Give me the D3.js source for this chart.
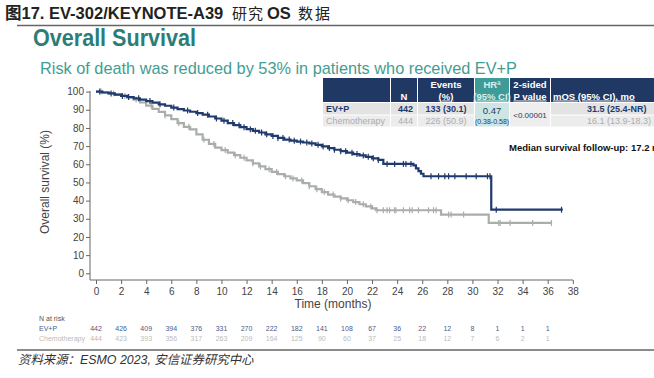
<!DOCTYPE html>
<html><head><meta charset="utf-8">
<script src="https://cdn.jsdelivr.net/npm/d3@7"></script>
<style>
html,body{margin:0;padding:0;background:#fff;}
svg{display:block;}
text{font-family:"Liberation Sans",Arial,"Noto Sans CJK SC",sans-serif;}
</style></head>
<body>
<svg id="chart" width="654" height="378"></svg>
<script>
// ---------------- data ----------------
const xTicks = [0,2,4,6,8,10,12,14,16,18,20,22,24,26,28,30,32,34,36,38];
const yTicks = [0,10,20,30,40,50,60,70,80,90,100];

const evpTime = [0,0.5,1,1.5,2,2.5,3,3.5,4,4.5,5,5.5,6,6.5,7,7.5,8,8.5,9,9.5,10,10.5,11,11.5,12,12.5,13,13.5,14,14.5,15,15.5,16,16.5,17,17.5,18,18.5,19,19.5,20,20.5,21,21.5,22,22.5,22.9,25.3,25.5,25.7,25.9,26.1,31.5,37.2];
const evpSurv = [100,99.5,99,98.3,97.6,97,96.3,95.6,94.8,93.9,93,92.2,91.2,90.4,89.6,88.9,88.2,87.3,86.3,85.2,84,82.7,81.5,80.4,79.3,78.4,77.5,76.5,75.6,74.5,73.6,73,72.5,72,71.5,70.7,69.8,68.9,68,67.2,66.4,65.6,64.9,64.1,63.3,62.4,60.2,59.4,57.8,56.2,54.8,53.4,35,35];

const chemoTime = [0,0.5,1,1.5,2,2.5,3,3.5,4,4.5,5,5.5,6,6.5,7,7.5,8,8.5,9,9.5,10,10.5,11,11.5,12,12.5,13,13.5,14,14.5,15,15.5,16,16.5,17,17.5,18,18.5,19,19.5,20,20.5,21,21.5,22,22.3,27.5,31.3,36.3];
const chemoSurv = [100,99.6,99,98.3,97.6,96.8,95.6,94,92.3,90.5,88.8,86.9,84.8,82.6,80.6,79.2,76.5,73.5,71.2,69.2,67.8,66.4,65,63.6,62.2,60.5,58.8,57.3,55.8,54.6,53.4,52.2,51.1,49.6,47.9,46.3,44.7,43.3,42.2,41.2,40.2,39.2,38,36.8,35.7,34.7,32.3,27.7,27.7];

const evpCensor = [0.3,1.2,2.1,2.6,3.4,4.3,5.1,6.2,7.3,8.1,8.9,9.6,10.2,10.9,11.4,11.8,12.3,12.7,13.2,13.6,14.1,14.5,14.9,15.4,15.8,16.3,16.8,17.2,17.7,18.1,18.6,19,19.5,19.9,20.4,20.8,21.3,21.7,22.1,22.5,23.2,23.8,24.5,24.7,25.1,26.7,27.3,27.8,28.1,28.6,29.5,30.3,31.2,31.4,31.9,37.1];
const chemoCensor = [0.4,1.4,2.3,3.2,4.4,5.5,6.6,7.4,8.6,9.4,10.3,11.1,11.8,12.5,13.1,13.8,14.4,15.1,15.7,16.4,17,17.6,18.2,18.9,19.5,20.1,20.7,21.3,21.9,22.4,22.9,23.2,23.4,23.8,23.9,24.5,25,25.2,25.7,26.5,26.9,27.1,28.1,28.3,29.3,32.1,32.2,33,34.8,36.3];

const riskTimes = [0,2,4,6,8,10,12,14,16,18,20,22,24,26,28,30,32,34,36];
const riskEVP = [442,426,409,394,376,331,270,222,182,141,108,67,36,22,12,8,1,1,1];
const riskChemo = [444,423,393,356,317,263,209,164,125,90,60,37,25,18,12,7,6,2,1];

const tableHead1 = ["", "", "Events", "HRª", "2-sided", ""];
const tableHead2 = ["", "N", "(%)", "(95% CI)", "P value", "mOS (95% CI), mo"];
const armNames = ["EV+P", "Chemotherapy"];
const armN = ["442", "444"];
const armEvents = ["133 (30.1)", "226 (50.9)"];
const armMOS = ["31.5 (25.4-NR)", "16.1 (13.9-18.3)"];
const hrLines = ["0.47", "(0.38-0.58)"];
const pValue = "<0.00001";

// ---------------- drawing ----------------
const svg = d3.select("#chart");
const NAVY = "#1f3a6c", GREY = "#a9aeab", TEAL = "#2c7d78";

const x = d3.scaleLinear().domain([0,38]).range([96,572.8]);
const y = d3.scaleLinear().domain([0,100]).range([273.3,91.6]);

// header
const head = svg.append("g").attr("fill","#222");
head.append("text").attr("x",5).attr("y",19).attr("font-size",16.5).attr("font-weight","bold").text("图17. EV-302/KEYNOTE-A39");
head.append("text").attr("x",232).attr("y",19).attr("font-size",15).attr("letter-spacing",1).attr("font-family","Noto Sans CJK SC").text("研究");
head.append("text").attr("x",267).attr("y",19).attr("font-size",16.5).attr("font-weight","bold").text("OS");
head.append("text").attr("x",298).attr("y",19).attr("font-size",15).attr("letter-spacing",2).attr("font-family","Noto Sans CJK SC").text("数据");
svg.append("line").attr("x1",17).attr("x2",654).attr("y1",25.5).attr("y2",25.5).attr("stroke","#666").attr("stroke-width",1.3);

svg.append("text").attr("x",33).attr("y",46).attr("font-size",24).attr("font-weight","bold")
  .attr("fill",TEAL).attr("textLength",163).attr("lengthAdjust","spacingAndGlyphs").text("Overall Survival");
svg.append("text").attr("x",40).attr("y",74).attr("font-size",17)
  .attr("fill","#3f9e94").attr("textLength",477).attr("lengthAdjust","spacingAndGlyphs")
  .text("Risk of death was reduced by 53% in patients who received EV+P");

// axes
const gx = svg.append("g").attr("transform","translate(0,280)")
  .call(d3.axisBottom(x).tickValues(xTicks).tickSize(4).tickPadding(4));
const gy = svg.append("g").attr("transform","translate(90,0)")
  .call(d3.axisLeft(y).tickValues(yTicks).tickSize(4).tickPadding(2));
[gx,gy].forEach(g=>{
  g.select(".domain").remove();
  g.selectAll(".tick line").attr("stroke","#666");
  g.selectAll(".tick text").attr("font-size",10).attr("fill","#444").attr("font-family","Liberation Sans, Arial");
});
svg.append("line").attr("x1",90).attr("x2",90).attr("y1",91).attr("y2",280).attr("stroke","#666");
svg.append("line").attr("x1",90).attr("x2",573).attr("y1",280).attr("y2",280).attr("stroke","#666");

svg.append("text").attr("transform","translate(49,182) rotate(-90)").attr("text-anchor","middle")
  .attr("font-size",12).attr("fill","#444").text("Overall survival (%)");
svg.append("text").attr("x",333).attr("y",308).attr("text-anchor","middle")
  .attr("font-size",12).attr("fill","#444").text("Time (months)");

// curves
function drawArm(times, surv, censor, color){
  const pts = times.map((t,i)=>[t,surv[i]]);
  const line = d3.line().x(d=>x(d[0])).y(d=>y(d[1])).curve(d3.curveStepAfter);
  svg.append("path").datum(pts).attr("d",line).attr("fill","none")
    .attr("stroke",color).attr("stroke-width",2.2);
  const bis = d3.bisector(d=>d).right;
  svg.append("g").selectAll("line").data(censor).join("line")
    .attr("x1",d=>x(d)).attr("x2",d=>x(d))
    .attr("y1",d=>y(surv[Math.max(0,bis(times,d)-1)])-3)
    .attr("y2",d=>y(surv[Math.max(0,bis(times,d)-1)])+3)
    .attr("stroke",color).attr("stroke-width",1.2);
}
drawArm(chemoTime, chemoSurv, chemoCensor, GREY);
drawArm(evpTime, evpSurv, evpCensor, NAVY);

// table
const colX = [323, 391, 418, 475, 510, 551, 700];
const hy0 = 78, hy1 = 102, r1 = [103,114.5], r2 = [115.5,126.5];
for (let c=0;c<6;c++){
  svg.append("rect").attr("x",colX[c]).attr("y",hy0).attr("width",colX[c+1]-colX[c]-1).attr("height",hy1-hy0)
    .attr("fill", c===3 ? "#3f9b97" : "#1f3864");
}
const tcol = (c)=> (colX[c]+colX[c+1]-1)/2;
tableHead1.forEach((t,c)=>{ if(t) svg.append("text").attr("x",tcol(c)).attr("y",88).attr("text-anchor","middle")
  .attr("font-size",9.5).attr("font-weight","bold").attr("fill", c===3?"#d6efec":"#fff").text(t); });
tableHead2.forEach((t,c)=>{ if(t) svg.append("text").attr("x", c===5 ? 553 : tcol(c)).attr("y",99.5)
  .attr("text-anchor", c===5 ? "start":"middle").attr("text-decoration", c>=2 ? "underline":"none")
  .attr("font-size",9.5).attr("font-weight","bold").attr("fill", c===3?"#d6efec":"#fff").text(t); });

[r1,r2].forEach((r,i)=>{
  [0,1,2,5].forEach(c=>{
    svg.append("rect").attr("x",colX[c]).attr("y",r[0]).attr("width",colX[c+1]-colX[c]-1).attr("height",r[1]-r[0])
      .attr("fill", i===0 ? "#e3e3e3" : "#ececec");
  });
});
svg.append("rect").attr("x",colX[3]).attr("y",r1[0]).attr("width",colX[4]-colX[3]-1).attr("height",r2[1]-r1[0]).attr("fill","#cde6e3");
svg.append("rect").attr("x",colX[4]).attr("y",r1[0]).attr("width",colX[5]-colX[4]-1).attr("height",r2[1]-r1[0]).attr("fill","#eeeeee");

[r1,r2].forEach((r,i)=>{
  const col = i===0 ? NAVY : "#adadad";
  const fw = i===0 ? "bold" : "normal";
  const yy = (r[0]+r[1])/2 + 3.3;
  const g = svg.append("g").attr("font-size",9).attr("fill",col).attr("font-weight",fw);
  g.append("text").attr("x",326).attr("y",yy).text(armNames[i]);
  g.append("text").attr("x",413).attr("y",yy).attr("text-anchor","end").text(armN[i]);
  g.append("text").attr("x",tcol(2)).attr("y",yy).attr("text-anchor","middle").text(armEvents[i]);
  g.append("text").attr("x",587).attr("y",yy).text(armMOS[i]);
});
const hrG = svg.append("g").attr("fill","#1f3a6c");
hrLines.forEach((t,i)=> hrG.append("text").attr("x",tcol(3)).attr("y",113.5+i*10).attr("text-anchor","middle")
  .attr("font-size", i===1 ? 7 : 9.5).text(t));
hrG.append("text").attr("x",tcol(4)).attr("y",118).attr("text-anchor","middle")
  .attr("font-size",8).text(pValue);

svg.append("text").attr("x",509).attr("y",151).attr("font-size",9.5).attr("font-weight","bold").attr("fill","#111")
  .text("Median survival follow-up: 17.2 mo");

// number at risk
svg.append("text").attr("x",39).attr("y",321).attr("font-size",7).attr("fill","#555").text("N at risk");
svg.append("text").attr("x",39).attr("y",331).attr("font-size",7).attr("fill","#4b5a86").text("EV+P");
svg.append("text").attr("x",39).attr("y",341).attr("font-size",7).attr("fill","#bbb").text("Chemotherapy");
svg.append("g").selectAll("text").data(riskEVP).join("text")
  .attr("x",(d,i)=>x(riskTimes[i])).attr("y",331).attr("text-anchor","middle")
  .attr("font-size",7).attr("fill","#4b5a86").text(d=>d);
svg.append("g").selectAll("text").data(riskChemo).join("text")
  .attr("x",(d,i)=>x(riskTimes[i])).attr("y",341).attr("text-anchor","middle")
  .attr("font-size",7).attr("fill","#bbb").text(d=>d);

// footer
svg.append("line").attr("x1",17).attr("x2",654).attr("y1",350).attr("y2",350).attr("stroke","#666").attr("stroke-width",1.3);
svg.append("text").attr("x",18).attr("y",364).attr("font-size",12.4).attr("font-style","italic").attr("fill","#333")
  .attr("font-family","Noto Sans CJK SC").text("资料来源：ESMO 2023, 安信证券研究中心");
</script>
</body></html>
